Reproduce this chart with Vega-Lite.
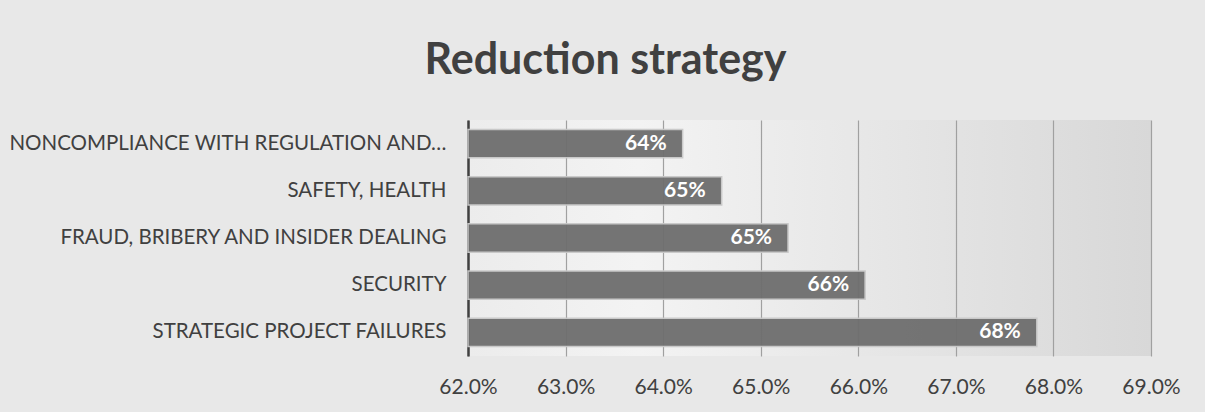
{
  "$schema": "https://vega.github.io/schema/vega-lite/v6.json",
  "width": 683,
  "height": 236,
  "autosize": {"type": "none"},
  "padding": {"left": 468, "top": 120, "right": 54, "bottom": 56},
  "background": "#e8e8e8",
  "title": {
    "text": "Reduction strategy",
    "font": "Lato",
    "fontSize": 43,
    "fontWeight": "bold",
    "color": "#404040",
    "anchor": "middle",
    "frame": "group",
    "dx": -204,
    "offset": 37
  },
  "config": {
    "view": {"stroke": null, "fill": {"gradient": "linear", "x1": 0, "y1": 0, "x2": 1, "y2": 0, "stops": [{"offset": 0, "color": "#ececec"}, {"offset": 0.25, "color": "#f3f3f3"}, {"offset": 1, "color": "#d8d8d8"}]}},
    "font": "Lato"
  },
  "data": {
    "values": [
      {"risk": "NONCOMPLIANCE WITH REGULATION AND…", "value": 64.2, "label": "64%"},
      {"risk": "SAFETY, HEALTH", "value": 64.6, "label": "65%"},
      {"risk": "FRAUD, BRIBERY AND INSIDER DEALING", "value": 65.28, "label": "65%"},
      {"risk": "SECURITY", "value": 66.07, "label": "66%"},
      {"risk": "STRATEGIC PROJECT FAILURES", "value": 67.83, "label": "68%"}
    ]
  },
  "encoding": {
    "y": {
      "field": "risk",
      "type": "nominal",
      "sort": null,
      "scale": {"paddingInner": 0.4, "paddingOuter": 0.2},
      "axis": {
        "title": null,
        "domainColor": "#404040",
        "domainWidth": 2.5,
        "ticks": false,
        "labelFont": "Lato",
        "labelFontSize": 20.5,
        "labelColor": "#404040",
        "labelPadding": 22,
        "labelLimit": 470
      }
    }
  },
  "layer": [
    {
      "mark": {"type": "bar", "color": "#6e6e6e", "opacity": 0.95, "stroke": "#c8c8c8", "strokeWidth": 1.5},
      "encoding": {
        "x": {
          "field": "value",
          "type": "quantitative",
          "scale": {"domain": [62, 69], "nice": false, "zero": false},
          "axis": {
            "title": null,
            "values": [62, 63, 64, 65, 66, 67, 68, 69],
            "labelExpr": "format(datum.value / 100, '.1%')",
            "labelFlush": false,
            "labelOverlap": false,
            "domain": false,
            "ticks": false,
            "grid": true,
            "gridColor": "#a0a0a0",
            "gridWidth": 1.2,
            "labelFont": "Lato",
            "labelFontSize": 21,
            "labelColor": "#404040",
            "labelPadding": 20
          }
        },
        "x2": {"datum": 62}
      }
    },
    {
      "mark": {"type": "text", "align": "right", "dx": -16, "color": "white", "font": "Lato", "fontWeight": "bold", "fontSize": 21, "baseline": "middle"},
      "encoding": {
        "x": {"field": "value", "type": "quantitative"},
        "text": {"field": "label"}
      }
    }
  ]
}
